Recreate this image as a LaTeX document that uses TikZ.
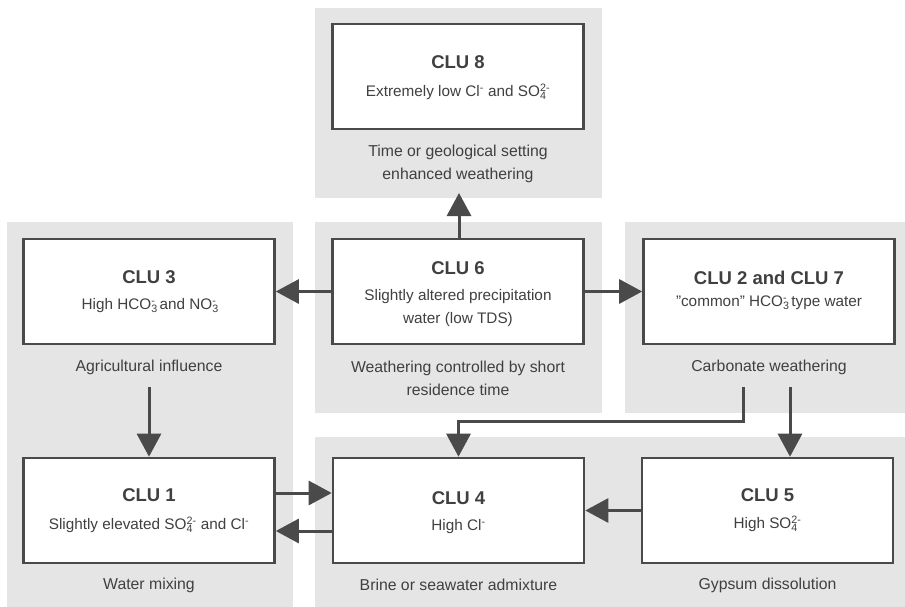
\documentclass[tikz,border=0pt]{standalone}
\usepackage{fontspec}
\setmainfont{Liberation Sans}
\usetikzlibrary{arrows.meta}
\definecolor{panelgrey}{HTML}{E5E5E5}
\definecolor{boxline}{HTML}{4A4A4A}
\definecolor{txt}{HTML}{404040}
\newcommand\ionsb[2]{\rlap{\textsubscript{#1}}\textsuperscript{#2}}
\begin{document}
\begin{tikzpicture}[x=1pt,y=-1pt,
  panel/.style={fill=panelgrey,draw=none},
  clubox/.style={draw=boxline,line width=2.6pt,fill=white,minimum width=251pt,minimum height=105pt,inner sep=0pt},
  title/.style={font=\fontsize{18.5}{20}\selectfont\bfseries,text=txt,inner sep=0pt},
  sub/.style={font=\fontsize{15.3}{23}\selectfont,text=txt,inner sep=0pt,align=center},
  lbl/.style={font=\fontsize{15.8}{23}\selectfont,text=txt,inner sep=0pt,align=center},
  conn/.style={draw=boxline,line width=3pt,-{Triangle[length=23pt,width=24pt]}}]
\useasboundingbox (0,0) rectangle (905,607);
% panels
\fill[panel] (315,8) rectangle (602,198);
\fill[panel] (7,222) rectangle (293,607);
\fill[panel] (315,222) rectangle (602,413);
\fill[panel] (625,222) rectangle (905,413);
\fill[panel] (315,437) rectangle (905,607);
% boxes
\node[clubox] (clu8) at (458,76.5) {};
\node[clubox] (clu3) at (149,291.5) {};
\node[clubox] (clu6) at (458,291.5) {};
\node[clubox] (clu27) at (769,291.5) {};
\node[clubox] (clu1) at (149,510.5) {};
\node[clubox] (clu4) at (458.5,510.5) {};
\node[clubox] (clu5) at (767.5,510.5) {};
% texts
\node[title] (t8) at (458,62) {CLU 8};
\node[sub] (s8) at (458,92) {Extremely low Cl\textsuperscript{-} and SO\ionsb{4}{2-}};
\node[lbl] (l8) at (458,163.5) {Time or geological setting\\enhanced weathering};
\node[title] (t3) at (149,277) {CLU 3};
\node[sub] (s3) at (149,306) {High HCO\ionsb{3}{-} and NO\ionsb{3}{-}};
\node[lbl] (l3) at (149,367) {Agricultural influence};
\node[title] (t6) at (458,268) {CLU 6};
\node[sub] (s6) at (458,308.5) {Slightly altered precipitation\\water (low TDS)};
\node[lbl] (l6) at (458,378.5) {Weathering controlled by short\\residence time};
\node[title] (t27) at (769,278) {CLU 2 and CLU 7};
\node[sub] (s27) at (769,303) {\symbol{34}common\symbol{34} HCO\ionsb{3}{-} type water};
\node[lbl] (l27) at (769,367) {Carbonate weathering};
\node[title] (t1) at (149,495) {CLU 1};
\node[sub] (s1) at (149,525) {Slightly elevated SO\ionsb{4}{2-} and Cl\textsuperscript{-}};
\node[lbl] (l1) at (149,585) {Water mixing};
\node[title] (t4) at (458.5,498) {CLU 4};
\node[sub] (s4) at (458.5,527) {High Cl\textsuperscript{-}};
\node[lbl] (l4) at (458.5,585) {Brine or seawater admixture};
\node[title] (t5) at (767.5,495) {CLU 5};
\node[sub] (s5) at (767.5,524) {High SO\ionsb{4}{2-}};
\node[lbl] (l5) at (767.5,585) {Gypsum dissolution};
% connector end points
\coordinate (up8) at (459,193);
\coordinate (s3start) at (149,387);
\coordinate (a27) at (743,387);
\coordinate (b27) at (790,387);
% connectors
\draw[conn] (clu6.north -| up8) -- (up8);
\draw[conn] (clu6.west) -- (clu3.east);
\draw[conn] (clu6.east) -- (clu27.west);
\draw[conn] (s3start) -- (s3start |- clu1.north);
\draw[conn] (a27) -- (743,421) -| (clu4.north);
\draw[conn] (b27) -- (b27 |- clu5.north);
\draw[conn] ([yshift=17.5pt]clu1.east) -- ([yshift=17.5pt]clu4.west);
\draw[conn] ([yshift=-20.5pt]clu4.west) -- ([yshift=-20.5pt]clu1.east);
\draw[conn] (clu5.west) -- (clu4.east);
\end{tikzpicture}
\end{document}
